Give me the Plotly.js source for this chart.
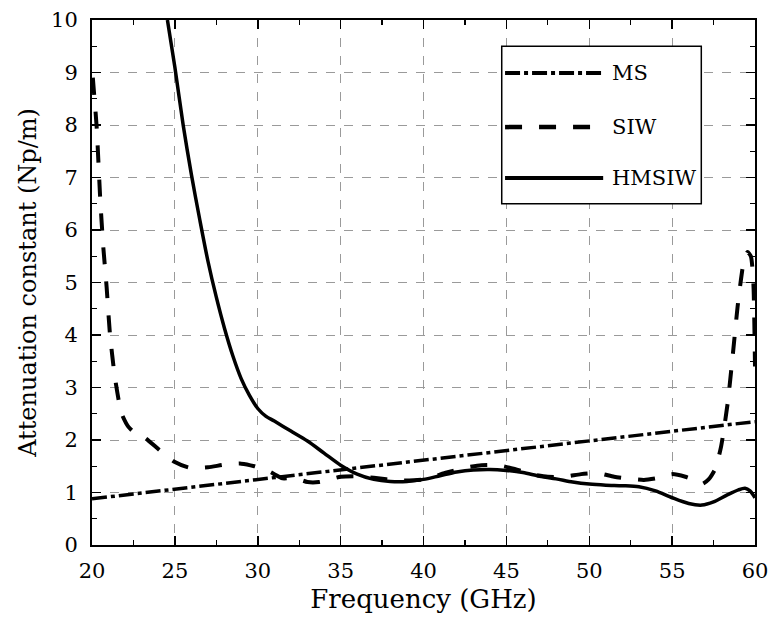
<!DOCTYPE html>
<html>
<head>
<meta charset="utf-8">
<script src="https://cdn.plot.ly/plotly-3.0.1.min.js"></script>
<style>html,body{margin:0;padding:0;background:#fff;}#chart{width:773px;height:618px;}</style>
</head>
<body>
<div id="chart"></div>
<script>
// ---- data ----
const msFreq = [20, 30, 40, 50, 60];
const msAtt  = [0.88, 1.25, 1.62, 1.98, 2.35];

const siwFreq = [20.05, 20.15, 20.28, 20.5, 20.68, 20.88, 21.08, 21.38, 21.78, 22.2, 22.6, 23.2, 24.1, 25, 25.9, 27, 28, 29, 29.8, 30.7, 31.5, 32.2, 33, 33.7, 35, 36, 37, 38.5, 40, 41.4, 42.5, 43.5, 44.5, 45.5, 46.5, 47.5, 48.5, 49.5, 50.5, 51.5, 52.5, 53.3, 54.2, 55, 55.8, 56.3, 56.8, 57.2, 57.6, 57.95, 58.35, 58.65, 58.95, 59.15, 59.35, 59.55, 59.75, 59.9, 60];
const siwAtt  = [8.9, 8.5, 7.97, 6.57, 5.68, 4.92, 4.03, 3.2, 2.51, 2.25, 2.13, 2.04, 1.8, 1.58, 1.47, 1.48, 1.53, 1.55, 1.5, 1.4, 1.27, 1.28, 1.2, 1.2, 1.3, 1.31, 1.28, 1.23, 1.25, 1.38, 1.47, 1.52, 1.52, 1.45, 1.35, 1.3, 1.3, 1.35, 1.37, 1.3, 1.26, 1.24, 1.28, 1.35, 1.3, 1.24, 1.16, 1.25, 1.45, 1.87, 2.7, 3.59, 4.54, 5.05, 5.45, 5.58, 5.5, 5.0, 3.4];

const hmFreq = [24.55, 25, 25.5, 26, 26.5, 27, 27.5, 28, 28.5, 29, 29.5, 30, 30.5, 31, 32, 33, 34, 35, 36, 37, 38, 39, 40, 41, 42, 43, 44, 45, 46, 47, 48, 49, 50, 51, 52, 53, 54, 55, 56, 56.8, 57.5, 58.3, 59, 59.4, 59.7, 60];
const hmAtt  = [10, 9.1, 8.0, 7.05, 6.2, 5.4, 4.72, 4.12, 3.6, 3.17, 2.85, 2.6, 2.45, 2.36, 2.17, 1.98, 1.75, 1.52, 1.35, 1.25, 1.21, 1.21, 1.25, 1.32, 1.39, 1.43, 1.44, 1.42, 1.38, 1.31, 1.26, 1.2, 1.16, 1.14, 1.13, 1.11, 1.03, 0.9, 0.79, 0.76, 0.82, 0.95, 1.05, 1.08, 1.03, 0.9];

const seriesNames = ["MS", "SIW", "HMSIW"];
const xTicks = [20, 25, 30, 35, 40, 45, 50, 55, 60];
const yTicks = [0, 1, 2, 3, 4, 5, 6, 7, 8, 9, 10];

// ---- styles ----
const FONT = "DejaVu Serif, Liberation Serif, serif";
const dashes = ["15px,4px,4px,4px", "17px,17px", "solid"];
const widths = [3.5, 4, 3.5];

const traces = [
  {x: msFreq, y: msAtt, name: seriesNames[0], mode: "lines", line: {color: "#000", width: widths[0], dash: dashes[0]}},
  {x: siwFreq, y: siwAtt, name: seriesNames[1], mode: "lines", line: {color: "#000", width: widths[1], dash: dashes[1], shape: "spline", smoothing: 0.6}},
  {x: hmFreq, y: hmAtt, name: seriesNames[2], mode: "lines", line: {color: "#000", width: widths[2], dash: dashes[2], shape: "spline", smoothing: 0.8}}
];

// manual legend (paper coordinates)
const legX0 = 0.618, legX1 = 0.919, legY0 = 0.650, legY1 = 0.950;
const sampleX0 = 0.623, sampleX1 = 0.771, textX = 0.781;
const rowY = [0.899, 0.796, 0.699];
const shapes = [{type: "rect", xref: "paper", yref: "paper", x0: legX0, x1: legX1, y0: legY0, y1: legY1, line: {color: "#000", width: 1.5}, fillcolor: "#fff", layer: "above"}];
const annotations = [];
seriesNames.forEach((n, i) => {
  shapes.push({type: "line", xref: "paper", yref: "paper", x0: sampleX0, x1: sampleX1, y0: rowY[i], y1: rowY[i], line: {color: "#000", width: widths[i] + 0.5, dash: dashes[i]}, layer: "above"});
  annotations.push({xref: "paper", yref: "paper", x: textX, y: rowY[i], text: n, showarrow: false, xanchor: "left", yanchor: "middle", font: {family: FONT, size: 21, color: "#000"}});
});

const axisCommon = {
  showline: true, linecolor: "#000", linewidth: 2, mirror: "allticks",
  ticks: "inside", ticklen: 9, tickwidth: 1.5, tickcolor: "#000",
  showgrid: true, gridcolor: "#9a9a9a", gridwidth: 1, griddash: "dash",
  zeroline: false,
  tickfont: {family: FONT, size: 21, color: "#000"},
  minor: {ticks: "inside", ticklen: 5, tickwidth: 1.2, tickcolor: "#000", showgrid: false}
};

const layout = {
  width: 773, height: 618,
  margin: {l: 92, r: 18, t: 20, b: 73},
  paper_bgcolor: "#fff", plot_bgcolor: "#fff",
  showlegend: false,
  xaxis: Object.assign({}, axisCommon, {
    range: [20, 60], tickvals: xTicks, ticktext: xTicks.map(String),
    minor: Object.assign({}, axisCommon.minor, {dtick: 2.5, tick0: 20}),
    ticklabelstandoff: 6,
    title: {text: "Frequency (GHz)", font: {family: FONT, size: 26, color: "#000"}, standoff: 8}
  }),
  yaxis: Object.assign({}, axisCommon, {
    range: [0, 10], tickvals: yTicks, ticktext: yTicks.map(String),
    minor: Object.assign({}, axisCommon.minor, {dtick: 0.5, tick0: 0}),
    ticklabelstandoff: 8,
    title: {text: "Attenuation constant (Np/m)", font: {family: FONT, size: 24, color: "#000"}, standoff: 8}
  }),
  shapes: shapes,
  annotations: annotations
};

Plotly.newPlot("chart", traces, layout, {staticPlot: true, displayModeBar: false});
</script>
</body>
</html>
